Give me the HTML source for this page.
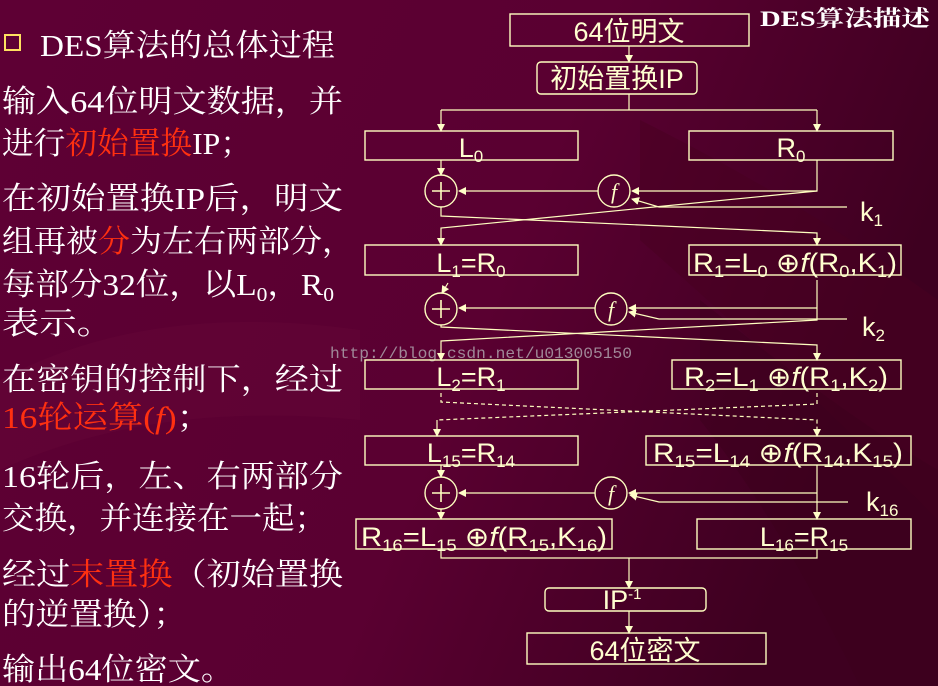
<!DOCTYPE html>
<html><head><meta charset="utf-8"><style>
html,body{margin:0;padding:0;background:#5c0032;}
svg{display:block}
</style></head><body>
<svg width="938" height="686" viewBox="0 0 938 686" xmlns="http://www.w3.org/2000/svg">
<defs>
<linearGradient id="bg" x1="0" y1="0" x2="1" y2="0.3">
<stop offset="0" stop-color="#5e0034"/>
<stop offset="0.6" stop-color="#5a0031"/>
<stop offset="1" stop-color="#3e0020"/>
</linearGradient>
<marker id="a" markerWidth="8" markerHeight="8" refX="7" refY="4" orient="auto" markerUnits="userSpaceOnUse">
<path d="M0,0 L8,4 L0,8 z" fill="#ffffc8"/>
</marker>
</defs>
<rect width="938" height="686" fill="url(#bg)"/>
<path d="M640,120 Q800,200 938,300 L938,520 Q800,380 640,240 z" fill="#48001f" opacity="0.5"/>
<path d="M700,300 Q850,420 938,470 L938,686 L860,686 Q780,520 700,420 z" fill="#3c001c" opacity="0.5"/>
<path d="M0,380 Q150,300 360,330 L360,420 Q150,400 0,470 z" fill="#6a0a3c" opacity="0.3"/>

<g font-family="'Liberation Serif','Noto Serif CJK SC',serif" font-size="31" fill="#ffffff">
<rect x="5" y="35" width="15" height="15" fill="none" stroke="#ffe060" stroke-width="2"/>
<text x="40" y="56" textLength="295" lengthAdjust="spacingAndGlyphs">DES算法的总体过程</text>
<text x="2" y="112" textLength="341" lengthAdjust="spacingAndGlyphs">输入64位明文数据，并</text>
<text x="2" y="154" textLength="250" lengthAdjust="spacingAndGlyphs">进行<tspan fill="#ff3010">初始置换</tspan>IP；</text>
<text x="2" y="209" textLength="341" lengthAdjust="spacingAndGlyphs">在初始置换IP后，明文</text>
<text x="2" y="252" textLength="352" lengthAdjust="spacingAndGlyphs">组再被<tspan fill="#ff3010">分</tspan>为左右两部分，</text>
<text x="2" y="295" textLength="332" lengthAdjust="spacingAndGlyphs">每部分32位，以L<tspan font-size="20" dy="6">0</tspan><tspan dy="-6">，R</tspan><tspan font-size="20" dy="6">0</tspan></text>
<text x="2" y="334" textLength="112" lengthAdjust="spacingAndGlyphs">表示。</text>
<text x="2" y="390" textLength="341" lengthAdjust="spacingAndGlyphs">在密钥的控制下，经过</text>
<text x="2" y="428" textLength="210" lengthAdjust="spacingAndGlyphs"><tspan fill="#ff3010">16轮运算(<tspan font-style="italic">f</tspan>)</tspan>；</text>
<text x="2" y="487" textLength="341" lengthAdjust="spacingAndGlyphs">16轮后，左、右两部分</text>
<text x="2" y="529" textLength="325" lengthAdjust="spacingAndGlyphs">交换，并连接在一起；</text>
<text x="2" y="585" textLength="341" lengthAdjust="spacingAndGlyphs">经过<tspan fill="#ff3010">末置换</tspan>（初始置换</text>
<text x="2" y="625" textLength="185" lengthAdjust="spacingAndGlyphs">的逆置换）；</text>
<text x="2" y="680" textLength="232" lengthAdjust="spacingAndGlyphs">输出64位密文。</text>
</g>
<text x="760" y="26" font-family="'Liberation Serif','Noto Serif CJK SC',serif" font-weight="bold" font-size="22" fill="#fff" textLength="170" lengthAdjust="spacingAndGlyphs">DES算法描述</text>
<text x="330" y="358" font-family="'Liberation Mono',monospace" font-size="16" fill="#a08898" textLength="302" lengthAdjust="spacingAndGlyphs">http://blog.csdn.net/u013005150</text>

<g fill="none" stroke="#ffffc0" stroke-width="1.4">
<rect x="510" y="14" width="239" height="32"/>
<rect x="537" y="62" width="160" height="32" rx="4"/>
<rect x="365" y="131" width="213" height="29"/>
<rect x="689" y="131" width="204" height="29"/>
<rect x="365" y="245" width="213" height="30"/>
<rect x="689" y="245" width="212" height="30"/>
<rect x="365" y="360" width="213" height="29"/>
<rect x="672" y="360" width="229" height="29"/>
<rect x="365" y="436" width="213" height="29"/>
<rect x="646" y="436" width="265" height="29"/>
<rect x="356" y="519" width="256" height="30"/>
<rect x="697" y="519" width="214" height="30"/>
<rect x="545" y="588" width="161" height="23" rx="4"/>
<rect x="527" y="633" width="239" height="31"/>
<circle cx="441" cy="191" r="16"/><circle cx="614" cy="191" r="16"/>
<circle cx="441" cy="309" r="16"/><circle cx="611" cy="309" r="16"/>
<circle cx="441" cy="493" r="16"/><circle cx="611" cy="493" r="16"/>
</g>
<g fill="none" stroke="#ffffc0" stroke-width="1.2">
<path d="M629,46 V62" marker-end="url(#a)"/>
<path d="M629,94 V110 M441,110 H817"/>
<path d="M441,110 V131" marker-end="url(#a)"/>
<path d="M817,110 V131" marker-end="url(#a)"/>
<path d="M441,160 V175" marker-end="url(#a)"/>
<path d="M817,160 V191 H632" marker-end="url(#a)"/>
<path d="M598,191 H459" marker-end="url(#a)"/>
<path d="M847,207 H659 L632,199" marker-end="url(#a)"/>
<path d="M817,191 L441,228 V245" marker-end="url(#a)"/>
<path d="M441,207 V216 L817,233 V245" marker-end="url(#a)"/>
<path d="M817,280 V320 L441,341 V360" marker-end="url(#a)"/>
<path d="M817,308 H629" marker-end="url(#a)"/>
<path d="M595,308 H459" marker-end="url(#a)"/>
<path d="M847,319 H659 L629,312" marker-end="url(#a)"/>
<path d="M448,283 L442,293" marker-end="url(#a)"/>
<path d="M441,325 V327 L817,345 V360" marker-end="url(#a)"/>
<path d="M441,393 V402 L817,420 V436" stroke-dasharray="4,3"/>
<path d="M817,393 V404 L437,420" stroke-dasharray="4,3"/>
<path d="M437,420 V436" marker-end="url(#a)"/>
<path d="M817,430 V436" marker-end="url(#a)"/>
<path d="M441,465 V477" marker-end="url(#a)"/>
<path d="M441,509 V519" marker-end="url(#a)"/>
<path d="M817,465 V519" marker-end="url(#a)"/>
<path d="M817,493 H629" marker-end="url(#a)"/>
<path d="M595,493 H459" marker-end="url(#a)"/>
<path d="M848,502 H659 L630,495" marker-end="url(#a)"/>
<path d="M441,549 V558 H817 V549"/>
<path d="M629,558 V588" marker-end="url(#a)"/>
<path d="M629,611 V633" marker-end="url(#a)"/>
</g>
<g stroke="#ffffc0" stroke-width="1.6">
<path d="M441,182 V200 M432,191 H450"/>
<path d="M441,300 V318 M432,309 H450"/>
<path d="M441,484 V502 M432,493 H450"/>
</g>
<g font-family="'Liberation Serif',serif" font-style="italic" font-size="22" fill="#ffffc8" text-anchor="middle">
<text x="614" y="199">f</text><text x="611" y="317">f</text><text x="611" y="501">f</text>
</g>
<g font-family="'Liberation Sans','DejaVu Sans','Noto Sans CJK SC',sans-serif" font-size="27" fill="#ffffd0" text-anchor="middle">
<text x="629" y="41">64位明文</text>
<text x="617" y="88">初始置换IP</text>
<text x="471" y="157">L<tspan font-size="17" dy="5">0</tspan></text>
<text x="791" y="157">R<tspan font-size="17" dy="5">0</tspan></text>
<text x="471" y="272">L<tspan font-size="17" dy="5">1</tspan><tspan dy="-5">=R</tspan><tspan font-size="17" dy="5">0</tspan></text>
<text x="795" y="272" textLength="204" lengthAdjust="spacingAndGlyphs">R<tspan font-size="17" dy="5">1</tspan><tspan dy="-5">=L</tspan><tspan font-size="17" dy="5">0</tspan><tspan dy="-5"> ⊕</tspan><tspan font-style="italic">f</tspan>(R<tspan font-size="17" dy="5">0</tspan><tspan dy="-5">,K</tspan><tspan font-size="17" dy="5">1</tspan><tspan dy="-5">)</tspan></text>
<text x="471" y="386">L<tspan font-size="17" dy="5">2</tspan><tspan dy="-5">=R</tspan><tspan font-size="17" dy="5">1</tspan></text>
<text x="786" y="386" textLength="204" lengthAdjust="spacingAndGlyphs">R<tspan font-size="17" dy="5">2</tspan><tspan dy="-5">=L</tspan><tspan font-size="17" dy="5">1</tspan><tspan dy="-5"> ⊕</tspan><tspan font-style="italic">f</tspan>(R<tspan font-size="17" dy="5">1</tspan><tspan dy="-5">,K</tspan><tspan font-size="17" dy="5">2</tspan><tspan dy="-5">)</tspan></text>
<text x="471" y="462">L<tspan font-size="17" dy="5">15</tspan><tspan dy="-5">=R</tspan><tspan font-size="17" dy="5">14</tspan></text>
<text x="778" y="462" textLength="250" lengthAdjust="spacingAndGlyphs">R<tspan font-size="17" dy="5">15</tspan><tspan dy="-5">=L</tspan><tspan font-size="17" dy="5">14</tspan><tspan dy="-5"> ⊕</tspan><tspan font-style="italic">f</tspan>(R<tspan font-size="17" dy="5">14</tspan><tspan dy="-5">,K</tspan><tspan font-size="17" dy="5">15</tspan><tspan dy="-5">)</tspan></text>
<text x="484" y="546" textLength="246" lengthAdjust="spacingAndGlyphs">R<tspan font-size="17" dy="5">16</tspan><tspan dy="-5">=L</tspan><tspan font-size="17" dy="5">15</tspan><tspan dy="-5"> ⊕</tspan><tspan font-style="italic">f</tspan>(R<tspan font-size="17" dy="5">15</tspan><tspan dy="-5">,K</tspan><tspan font-size="17" dy="5">16</tspan><tspan dy="-5">)</tspan></text>
<text x="804" y="546">L<tspan font-size="17" dy="5">16</tspan><tspan dy="-5">=R</tspan><tspan font-size="17" dy="5">15</tspan></text>
<text x="622" y="609">IP<tspan font-size="15" dy="-10">-1</tspan></text>
<text x="645" y="660">64位密文</text>
<text x="860" y="221" text-anchor="start">k<tspan font-size="17" dy="5">1</tspan></text>
<text x="862" y="336" text-anchor="start">k<tspan font-size="17" dy="5">2</tspan></text>
<text x="866" y="511" text-anchor="start">k<tspan font-size="17" dy="5">16</tspan></text>
</g>
</svg>
</body></html>
